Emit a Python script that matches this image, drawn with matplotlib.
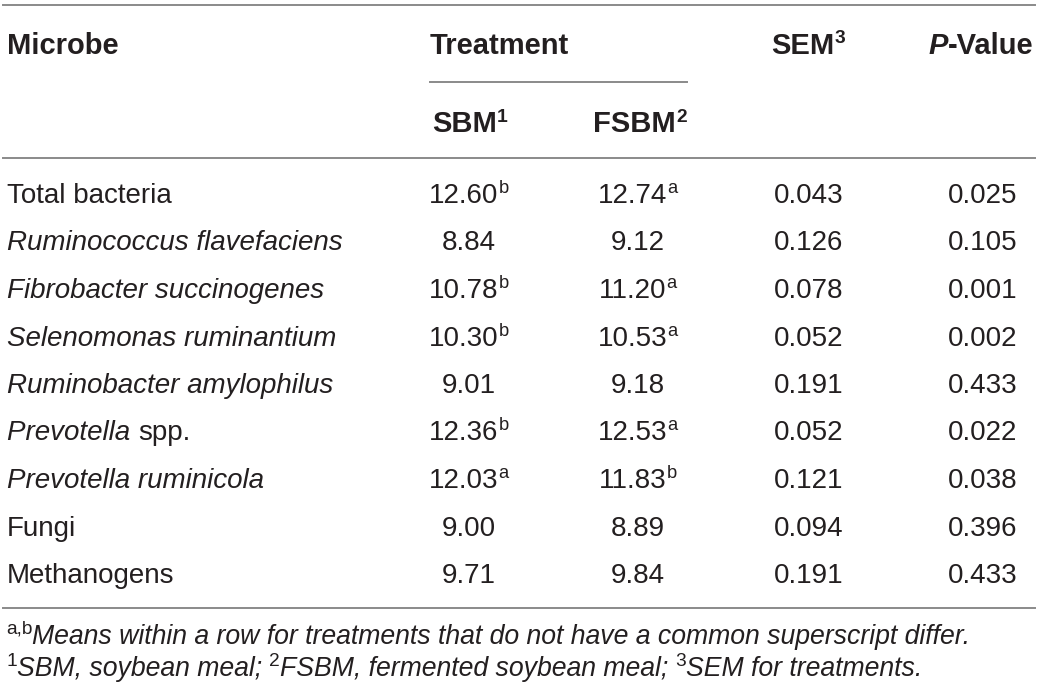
import matplotlib
matplotlib.use("Agg")
import matplotlib.pyplot as plt
from matplotlib import font_manager

# table content
microbes = ["Total bacteria", "Ruminococcus flavefaciens", "Fibrobacter succinogenes",
            "Selenomonas ruminantium", "Ruminobacter amylophilus", "Prevotella|spp.",
            "Prevotella ruminicola", "Fungi", "Methanogens"]
microbe_italic = [False, True, True, True, True, True, True, False, False]
sbm = ["12.60", "8.84", "10.78", "10.30", "9.01", "12.36", "12.03", "9.00", "9.71"]
sbm_sup = ["b", "", "b", "b", "", "b", "a", "", ""]
fsbm = ["12.74", "9.12", "11.20", "10.53", "9.18", "12.53", "11.83", "8.89", "9.84"]
fsbm_sup = ["a", "", "a", "a", "", "a", "b", "", ""]
sem = ["0.043", "0.126", "0.078", "0.052", "0.191", "0.052", "0.121", "0.094", "0.191"]
pval = ["0.025", "0.105", "0.001", "0.002", "0.433", "0.022", "0.038", "0.396", "0.433"]

note1 = [("a,b", "sup"), ("Means within a row for treatments that do not have a common superscript differ.", "it")]
note2 = [("1", "sup"), ("SBM, soybean meal; ", "it"), ("2", "sup"),
         ("FSBM, fermented soybean meal; ", "it"), ("3", "sup"), ("SEM for treatments.", "it")]

names = {f.name for f in font_manager.fontManager.ttflist}
FONT = "Liberation Sans"
NARROW = "Liberation Sans Narrow" if "Liberation Sans Narrow" in names else FONT
INK = "#231f20"
RULE = "#8a8a8a"

fig = plt.figure(figsize=(10.4, 7), dpi=100)
ax = fig.add_axes([0, 0, 1, 1])
ax.set_xlim(0, 1040)
ax.set_ylim(700, 0)
ax.axis("off")
renderer = fig.canvas.get_renderer()


def runs(x, yc, parts, size, ha="left", weight="normal", family=FONT, sup=0.66):
    # parts: list of (text, style) with style in normal / it / sup
    em = size * 100 / 72.0
    base = yc + 0.36 * em
    objs = []
    for txt, st in parts:
        if st == "sup":
            t = ax.text(0, base - 0.36 * em, txt, fontsize=size * sup, family=family,
                        weight=weight, color=INK, va="baseline", ha="left")
        else:
            t = ax.text(0, base, txt, fontsize=size, family=family, weight=weight,
                        style="italic" if st == "it" else "normal",
                        color=INK, va="baseline", ha="left")
        objs.append(t)
    widths = [o.get_window_extent(renderer).width for o in objs]
    total = sum(widths)
    if ha == "center":
        x = x - total / 2
    elif ha == "right":
        x = x - total
    for o, w in zip(objs, widths):
        o.set_x(x)
        x += w
    return total


body = 20
head = 21

# rules
ax.plot([3, 1035], [5, 5], color=RULE, lw=1.4)
ax.plot([430, 687], [82, 82], color=RULE, lw=1.4)
ax.plot([3, 1035], [158, 158], color=RULE, lw=1.4)
ax.plot([3, 1035], [608, 608], color=RULE, lw=1.4)

# header
runs(7, 43, [("Microbe", "normal")], head, weight="bold")
runs(430, 43, [("Treatment", "normal")], head, weight="bold")
runs(808, 43, [("SEM", "normal"), ("3", "sup")], head, ha="center", weight="bold")
runs(981, 43, [("P", "it"), ("-Value", "normal")], head, ha="center", weight="bold")
runs(470, 122, [("SBM", "normal"), ("1", "sup")], head, ha="center", weight="bold")
runs(640, 122, [("FSBM", "normal"), ("2", "sup")], head, ha="center", weight="bold")

# body rows
for i in range(len(microbes)):
    yc = 193 + i * 47.5
    name = microbes[i]
    if "|" in name:
        a, b = name.split("|")
        parts = [(a + " ", "it"), (b, "normal")]
    else:
        parts = [(name, "it" if microbe_italic[i] else "normal")]
    runs(7, yc, parts, body)
    p = [(sbm[i], "normal")] + ([(sbm_sup[i], "sup")] if sbm_sup[i] else [])
    runs(469, yc, p, body, ha="center")
    p = [(fsbm[i], "normal")] + ([(fsbm_sup[i], "sup")] if fsbm_sup[i] else [])
    runs(638, yc, p, body, ha="center")
    runs(809, yc, [(sem[i], "normal")], body, ha="center")
    runs(983, yc, [(pval[i], "normal")], body, ha="center")

# footnotes
fn = 18 if NARROW != FONT else 19.2
runs(6, 634, note1, fn, family=NARROW, sup=0.72)
runs(6, 666, note2, fn, family=NARROW, sup=0.72)

fig.savefig("out.png", dpi=100)
